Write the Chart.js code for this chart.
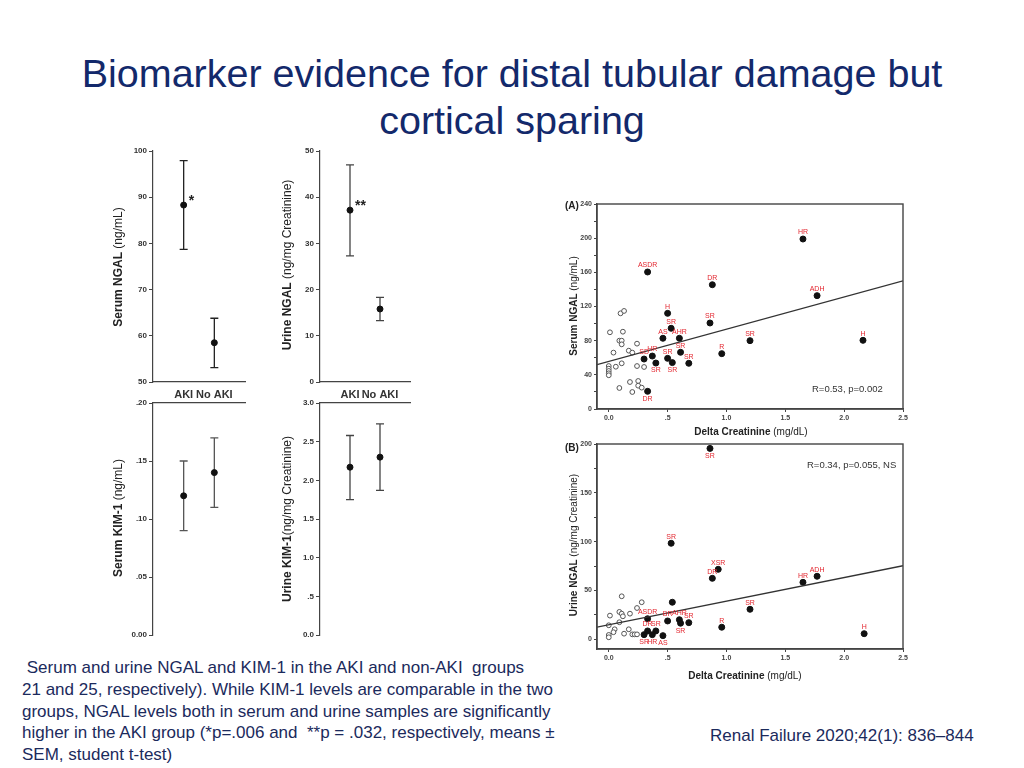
<!DOCTYPE html>
<html>
<head>
<meta charset="utf-8">
<title>Biomarker evidence for distal tubular damage but cortical sparing</title>
<script src="https://cdn.jsdelivr.net/npm/chart.js@4.4.0/dist/chart.umd.min.js"></script>
<style>
  body { margin: 0; background: #fff; font-family: "Liberation Sans", Arial, sans-serif; }
  #page { position: relative; width: 1024px; height: 768px; overflow: hidden; background: #fff; }
  h1 { position: absolute; left: 0; top: 50px; width: 1024px; margin: 0; text-align: center;
       font-weight: normal; font-size: 39.5px; line-height: 47px; color: #13296b; }
  canvas { position: absolute; }
  .ytitle { position: absolute; transform: translate(-50%, -50%) rotate(-90deg); white-space: nowrap; color: #222; }
  .xtitle { position: absolute; transform: translate(-50%, -50%); white-space: nowrap; color: #222; font-size: 10px; }
  .note { position: absolute; white-space: nowrap; color: #333; font-size: 9.5px; transform: translateY(-50%); }
  .panel { position: absolute; font-weight: bold; font-size: 10px; color: #222; transform: translateY(-50%); }
  #caption { position: absolute; left: 22px; top: 657px; font-size: 17px; line-height: 21.8px; color: #1b2a5c; }
  #ref { position: absolute; left: 710px; top: 726px; font-size: 17px; color: #1b2a5c; }
</style>
</head>
<body>
<div id="page">
  <h1>Biomarker evidence for distal tubular damage but<br>cortical sparing</h1>

  <canvas id="c1" width="160" height="270" style="left:100px; top:140px;"></canvas>
  <canvas id="c2" width="150" height="270" style="left:270px; top:140px;"></canvas>
  <canvas id="c3" width="160" height="250" style="left:100px; top:395px;"></canvas>
  <canvas id="c4" width="150" height="250" style="left:270px; top:395px;"></canvas>
  <canvas id="cA" width="360" height="245" style="left:555px; top:195px;"></canvas>
  <canvas id="cB" width="360" height="250" style="left:555px; top:435px;"></canvas>

  <div class="ytitle" style="left:118px; top:267px; font-size:12px;"><b>Serum NGAL</b> (ng/mL)</div>
  <div class="ytitle" style="left:287px; top:265px; font-size:12px;"><b>Urine NGAL</b> (ng/mg Creatinine)</div>
  <div class="ytitle" style="left:118px; top:518px; font-size:12px;"><b>Serum KIM-1</b> (ng/mL)</div>
  <div class="ytitle" style="left:287px; top:519px; font-size:12px;"><b>Urine KIM-1</b>(ng/mg Creatinine)</div>

  <div class="panel" style="left:565px; top:205px;">(A)</div>
  <div class="panel" style="left:565px; top:447px;">(B)</div>
  <div class="ytitle" style="left:573px; top:306px; font-size:10px;"><b>Serum NGAL</b> (ng/mL)</div>
  <div class="ytitle" style="left:573px; top:545px; font-size:10px;"><b>Urine NGAL</b> (ng/mg Creatinine)</div>
  <div class="xtitle" style="left:751px; top:431px;"><b>Delta Creatinine</b> (mg/dL)</div>
  <div class="xtitle" style="left:745px; top:675px;"><b>Delta Creatinine</b> (mg/dL)</div>
  <div class="note" style="left:812px; top:388px;">R=0.53, p=0.002</div>
  <div class="note" style="left:807px; top:464px;">R=0.34, p=0.055, NS</div>

  <div id="caption">&nbsp;Serum and urine NGAL and KIM-1 in the AKI and non-AKI &nbsp;groups<br>21 and 25, respectively). While KIM-1 levels are comparable in the two<br>groups, NGAL levels both in serum and urine samples are significantly<br>higher in the AKI group (*p=.006 and &nbsp;**p = .032, respectively, means ±<br>SEM, student t-test)</div>
  <div id="ref">Renal Failure 2020;42(1): 836–844</div>
</div>

<script>
// group comparison (means and SEM range)
const groups = ['AKI', 'No AKI'];
const serumNgalMean = [88.3, 58.5];
const serumNgalLow = [78.7, 53.1];
const serumNgalHigh = [97.9, 63.8];
const urineNgalMean = [37.2, 15.8];
const urineNgalLow = [27.3, 13.3];
const urineNgalHigh = [47.0, 18.3];
const serumKimMean = [0.12, 0.14];
const serumKimLow = [0.09, 0.11];
const serumKimHigh = [0.15, 0.17];
const urineKimMean = [2.17, 2.30];
const urineKimLow = [1.75, 1.87];
const urineKimHigh = [2.58, 2.73];

const serumNgalTicks = ['50', '60', '70', '80', '90', '100'];
const urineNgalTicks = ['0', '10', '20', '30', '40', '50'];
const serumKimTicks = ['0.00', '.05', '.10', '.15', '.20'];
const urineKimTicks = ['0.0', '.5', '1.0', '1.5', '2.0', '2.5', '3.0'];

// scatter (A) serum NGAL vs delta creatinine
const aOpenX = [0.10, 0.13, 0.01, 0.12, 0.09, 0.11, 0.11, 0.24, 0.04, 0.17, 0.20, 0.11, 0.06, 0.00, 0.00, 0.00, 0.00, 0.00, 0.24, 0.30, 0.18, 0.25, 0.25, 0.28, 0.09, 0.20];
const aOpenY = [112, 114.8, 89.8, 90.5, 80, 80, 75.7, 76.5, 66, 68.3, 66, 53.5, 49.5, 50.3, 47.2, 44.5, 41.8, 39.5, 50.3, 49.2, 31.6, 32.8, 27.3, 25, 24.6, 19.9];
const aFillX = [0.33, 0.88, 1.65, 1.77, 0.50, 0.53, 0.86, 0.46, 0.60, 1.20, 2.16, 0.61, 0.96, 0.37, 0.30, 0.50, 0.40, 0.54, 0.68, 0.33];
const aFillY = [160.4, 145.5, 199, 132.7, 112, 94.5, 100.7, 82.8, 82.8, 80, 80.4, 66.4, 64.8, 62, 58.5, 59.3, 53.8, 54.3, 53.5, 20.7];
const aTags = ['ASDR', 'DR', 'HR', 'ADH', 'H', 'SR', 'SR', 'AS', 'AHR', 'SR', 'H', 'SR', 'R', 'HR', 'SD', 'SR', 'SR', 'SR', 'SR', 'DR'];
const aTagSide = ['u', 'u', 'u', 'u', 'u', 'u', 'u', 'u', 'u', 'u', 'u', 'u', 'u', 'u', 'u', 'u', 'd', 'd', 'u', 'd'];
const aFitX = [-0.1, 2.5];
const aFitY = [52, 150];

// scatter (B) urine NGAL vs delta creatinine
const bOpenX = [0.11, 0.28, 0.24, 0.09, 0.11, 0.12, 0.18, 0.01, 0.09, 0.00, 0.17, 0.05, 0.04, 0.00, 0.00, 0.13, 0.20, 0.22, 0.24];
const bOpenY = [44, 37.9, 32, 28, 26.2, 23.5, 26.2, 24.2, 17.4, 14.3, 10.2, 10.2, 7.2, 4.4, 2, 5.7, 5, 5, 5];
const bFillX = [0.86, 0.53, 0.93, 0.88, 1.77, 1.65, 1.20, 0.54, 0.96, 2.17, 0.33, 0.50, 0.60, 0.61, 0.68, 0.33, 0.40, 0.30, 0.37, 0.46];
const bFillY = [195.5, 98.3, 71.6, 62.4, 64.5, 58.3, 30.7, 37.9, 12.3, 5.7, 21, 18.7, 20, 16.4, 17, 8.5, 8.5, 4.7, 4.7, 3.7];
const bTags = ['SR', 'SR', 'XSR', 'DR', 'ADH', 'HR', 'SR', '', 'R', 'H', 'ASDR', 'BR', 'AHR', 'SR', 'SR', 'DR', 'SR', 'SR', 'HR', 'AS'];
const bTagSide = ['d', 'u', 'u', 'u', 'u', 'u', 'u', 'u', 'u', 'u', 'u', 'u', 'u', 'd', 'u', 'u', 'u', 'd', 'd', 'd'];
const bFitX = [-0.1, 2.5];
const bFitY = [12.3, 75.3];

const xTickVals = [0, 0.5, 1, 1.5, 2, 2.5];
const xTickText = ['0.0', '.5', '1.0', '1.5', '2.0', '2.5'];

Chart.defaults.font.family = '"Liberation Sans", Arial, sans-serif';
Chart.defaults.animation = false;

// SEM whiskers and significance stars
const errorBars = {
    id: 'errorBars',
    beforeDatasetsDraw(chart, args, opts) {
        const { ctx, scales: { x, y } } = chart;
        ctx.save();
        ctx.strokeStyle = opts.color;
        ctx.lineWidth = 1.3;
        opts.low.forEach((lo, i) => {
            const px = x.getPixelForValue(i + 1);
            const top = y.getPixelForValue(opts.high[i]);
            const bot = y.getPixelForValue(lo);
            ctx.beginPath();
            ctx.moveTo(px, top); ctx.lineTo(px, bot);
            ctx.moveTo(px - 4, top); ctx.lineTo(px + 4, top);
            ctx.moveTo(px - 4, bot); ctx.lineTo(px + 4, bot);
            ctx.stroke();
        });
        ctx.restore();
    },
    afterDatasetsDraw(chart, args, opts) {
        if (!opts.star) return;
        const { ctx } = chart;
        const pt = chart.getDatasetMeta(0).data[0];
        ctx.save();
        ctx.fillStyle = '#222';
        ctx.font = 'bold 14px "Liberation Sans", Arial';
        ctx.textAlign = 'left';
        ctx.textBaseline = 'middle';
        ctx.fillText(opts.star, pt.x + 5, pt.y - 4);
        ctx.restore();
    }
};

// red patient tags next to the filled points
const pointTags = {
    id: 'pointTags',
    afterDatasetsDraw(chart, args, opts) {
        const { ctx } = chart;
        const meta = chart.getDatasetMeta(2);
        ctx.save();
        ctx.fillStyle = '#e3262f';
        ctx.font = '7px "Liberation Sans", Arial';
        ctx.textAlign = 'center';
        meta.data.forEach((el, i) => {
            const t = opts.tags[i];
            if (!t) return;
            const below = opts.sides[i] === 'd';
            ctx.textBaseline = below ? 'top' : 'bottom';
            ctx.fillText(t, el.x, below ? el.y + 4 : el.y - 3);
        });
        ctx.restore();
    }
};

const frame = {
    id: 'frame',
    afterDraw(chart) {
        const { ctx, chartArea: a } = chart;
        ctx.save();
        ctx.strokeStyle = '#444';
        ctx.lineWidth = 1.4;
        ctx.strokeRect(a.left, a.top, a.right - a.left, a.bottom - a.top);
        ctx.restore();
    }
};

function groupChart(id, mean, low, high, yMin, yMax, step, tickText, axisW, rightPad, star, barColor, xTop) {
    new Chart(document.getElementById(id), {
        type: 'scatter',
        data: {
            datasets: [{
                data: mean.map((v, i) => ({ x: i + 1, y: v })),
                pointRadius: 3,
                backgroundColor: '#111',
                borderColor: '#111'
            }]
        },
        options: {
            responsive: false,
            layout: { padding: xTop ? { top: 8, right: rightPad, bottom: 10 } : { top: 11, right: rightPad } },
            plugins: {
                legend: { display: false },
                tooltip: { enabled: false },
                errorBars: { low: low, high: high, color: barColor, star: star }
            },
            scales: {
                x: {
                    type: 'linear',
                    position: xTop ? 'top' : 'bottom',
                    min: 0, max: 3,
                    afterBuildTicks: s => { s.ticks = [{ value: 1 }, { value: 2 }]; },
                    afterFit: s => { s.height = xTop ? 0 : 28; },
                    grid: { display: false, drawTicks: false },
                    border: { display: true, color: '#444', width: 1.2 },
                    ticks: {
                        display: !xTop,
                        callback: v => groups[v - 1],
                        color: '#333',
                        font: { size: 11, weight: 'bold' },
                        padding: 6
                    }
                },
                y: {
                    min: yMin, max: yMax,
                    afterFit: s => { s.width = axisW; },
                    grid: { drawOnChartArea: false, drawTicks: true, tickLength: 4, color: '#444' },
                    border: { color: '#444', width: 1.2 },
                    ticks: {
                        stepSize: step,
                        callback: (v, i) => tickText[i],
                        color: '#333',
                        font: { size: 8, weight: 'bold' },
                        padding: 2
                    }
                }
            }
        },
        plugins: [errorBars]
    });
}

groupChart('c1', serumNgalMean, serumNgalLow, serumNgalHigh, 50, 100, 10, serumNgalTicks, 53, 15, '*', '#222', false);
groupChart('c2', urineNgalMean, urineNgalLow, urineNgalHigh, 0, 50, 10, urineNgalTicks, 50, 10, '**', '#444', false);
groupChart('c3', serumKimMean, serumKimLow, serumKimHigh, 0, 0.2, 0.05, serumKimTicks, 53, 15, '', '#555', true);
groupChart('c4', urineKimMean, urineKimLow, urineKimHigh, 0, 3, 0.5, urineKimTicks, 50, 10, '', '#444', true);

function scatterChart(id, openX, openY, fillX, fillY, tags, sides, fitX, fitY, yMin, yMax, yStep, yEvery, xHeight) {
    const yVals = [];
    for (let v = 0; v <= yMax; v += yStep) yVals.push(v);
    new Chart(document.getElementById(id), {
        type: 'scatter',
        data: {
            datasets: [
                {
                    data: fitX.map((x, i) => ({ x: x, y: fitY[i] })),
                    showLine: true,
                    borderColor: '#333',
                    borderWidth: 1.3,
                    pointRadius: 0
                },
                {
                    data: openX.map((x, i) => ({ x: x, y: openY[i] })),
                    pointRadius: 2.4,
                    backgroundColor: '#fff',
                    borderColor: '#555',
                    borderWidth: 1
                },
                {
                    data: fillX.map((x, i) => ({ x: x, y: fillY[i] })),
                    pointRadius: 3,
                    backgroundColor: '#111',
                    borderColor: '#111'
                }
            ]
        },
        options: {
            responsive: false,
            layout: { padding: { top: 9, right: 12 } },
            plugins: {
                legend: { display: false },
                tooltip: { enabled: false },
                pointTags: { tags: tags, sides: sides }
            },
            scales: {
                x: {
                    type: 'linear',
                    min: -0.1, max: 2.5,
                    afterBuildTicks: s => { s.ticks = xTickVals.map(v => ({ value: v })); },
                    afterFit: s => { s.height = xHeight; },
                    grid: { drawOnChartArea: false, tickLength: 3, color: '#444' },
                    border: { color: '#444', width: 1.4 },
                    ticks: {
                        callback: (v, i) => xTickText[i],
                        color: '#444',
                        font: { size: 7, weight: 'bold' },
                        maxRotation: 0,
                        padding: 2
                    }
                },
                y: {
                    min: yMin, max: yMax,
                    afterBuildTicks: s => { s.ticks = yVals.map(v => ({ value: v })); },
                    afterFit: s => { s.width = 42; },
                    grid: { drawOnChartArea: false, tickLength: 3, color: '#444' },
                    border: { color: '#444', width: 1.4 },
                    ticks: {
                        callback: v => (v % yEvery === 0 ? String(v) : ''),
                        color: '#444',
                        font: { size: 7, weight: 'bold' },
                        padding: 2
                    }
                }
            }
        },
        plugins: [pointTags, frame]
    });
}

scatterChart('cA', aOpenX, aOpenY, aFillX, aFillY, aTags, aTagSide, aFitX, aFitY, 0, 240, 20, 40, 31);
scatterChart('cB', bOpenX, bOpenY, bFillX, bFillY, bTags, bTagSide, bFitX, bFitY, -10, 200, 25, 50, 36);
</script>
</body>
</html>
